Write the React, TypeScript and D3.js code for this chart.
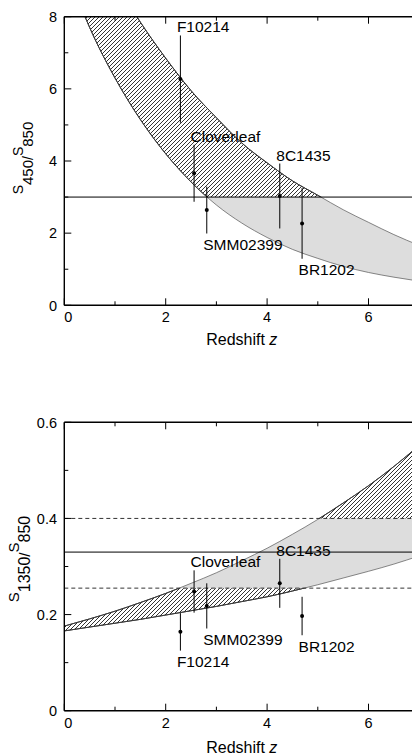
import * as d3 from 'd3';

const W = 412;
const H = 755;
const FONT = '"Liberation Sans", Arial, Helvetica, sans-serif';

// sources
const names = ['F10214', 'Cloverleaf', 'SMM02399', '8C1435', 'BR1202'];
const redshift = [2.29, 2.56, 2.81, 4.25, 4.69];
const ratio450 = [6.27, 3.66, 2.64, 3.03, 2.27];
const err450 = [1.21, 0.79, 0.65, 0.9, 0.98];
const ratio1350 = [0.164, 0.248, 0.218, 0.265, 0.197];
const err1350 = [0.039, 0.044, 0.047, 0.051, 0.04];

// model band edges
const modelZ = [0, 0.5, 1, 1.5, 2, 2.5, 3, 3.5, 4, 4.5, 5, 5.5, 6, 6.5, 7];
const upper450 = [11.8, 10.3, 9.0, 7.85, 6.85, 5.95, 5.2, 4.5, 3.95, 3.45, 3.05, 2.65, 2.3, 1.96, 1.66];
const lower450 = [9.5, 7.7, 6.3, 5.15, 4.2, 3.42, 2.78, 2.28, 1.88, 1.55, 1.3, 1.08, 0.91, 0.78, 0.67];
const upper1350 = [0.176, 0.191, 0.207, 0.225, 0.244, 0.265, 0.287, 0.312, 0.338, 0.367, 0.398, 0.432, 0.468, 0.508, 0.552];
const lower1350 = [0.166, 0.174, 0.182, 0.19, 0.199, 0.208, 0.217, 0.227, 0.237, 0.249, 0.262, 0.276, 0.29, 0.305, 0.322];

// ticks
const xMajor = [0, 2, 4, 6];
const xMinor = [1, 3, 5];
const yMajor450 = [0, 2, 4, 6, 8];
const yMinor450 = [1, 3, 5, 7];
const yMajor1350 = [0, 0.2, 0.4, 0.6];
const yMinor1350 = [0.1, 0.3, 0.5];

// reference levels
const solid450 = [3];
const dashed450: number[] = [];
const solid1350 = [0.33];
const dashed1350 = [0.4, 0.255];
const gray450 = [-1, 3];
const gray1350 = [0.255, 0.4];

const side450 = ['above', 'above', 'below', 'above', 'below'];
const side1350 = ['below', 'above', 'below', 'above', 'below'];

const x = d3.scaleLinear().domain([0, 7]).range([64.3, 419.2]);

type PanelProps = {
  id: string;
  domain: [number, number];
  top: number;
  bottom: number;
  upper: number[];
  lower: number[];
  values: number[];
  errors: number[];
  sides: string[];
  yMajor: number[];
  yMinor: number[];
  gray: number[];
  solid: number[];
  dashed: number[];
  sub: string;
  titleX: number;
  titleY: number;
  titleSize: number;
  xTitleY: number;
};

function Panel(p: PanelProps) {
  const y = d3.scaleLinear().domain(p.domain).range([p.bottom, p.top]);
  const x0 = x(0);

  const area = d3
    .area<number>()
    .x((_, i) => x(modelZ[i]))
    .y0((_, i) => y(p.lower[i]))
    .y1((d) => y(d))
    .curve(d3.curveMonotoneX);
  const line = d3
    .line<number>()
    .x((_, i) => x(modelZ[i]))
    .y((d) => y(d))
    .curve(d3.curveMonotoneX);

  const bandPath = area(p.upper) || '';
  const upPath = line(p.upper) || '';
  const loPath = line(p.lower) || '';

  const gTop = Math.max(p.top, y(p.gray[1]));
  const gBot = Math.min(p.bottom, y(p.gray[0]));

  return (
    <g>
      <defs>
        <clipPath id={`${p.id}-plot`}>
          <rect x={x0} y={p.top} width={W - x0} height={p.bottom - p.top} />
        </clipPath>
        <clipPath id={`${p.id}-gray`}>
          <rect x={x0} y={gTop} width={W - x0} height={gBot - gTop} />
        </clipPath>
        <clipPath id={`${p.id}-hatch`}>
          <rect x={x0} y={p.top} width={W - x0} height={gTop - p.top} />
          <rect x={x0} y={gBot} width={W - x0} height={p.bottom - gBot} />
        </clipPath>
      </defs>

      <g clipPath={`url(#${p.id}-plot)`}>
        <g clipPath={`url(#${p.id}-gray)`}>
          <path d={bandPath} fill="#dddddd" />
        </g>
        <g clipPath={`url(#${p.id}-hatch)`}>
          <path d={bandPath} fill="url(#hatch)" />
          <path d={upPath} fill="none" stroke="#000" strokeWidth={1} />
          <path d={loPath} fill="none" stroke="#000" strokeWidth={1} />
        </g>
        <path d={upPath} fill="none" stroke="#555" strokeWidth={0.7} />
        <path d={loPath} fill="none" stroke="#555" strokeWidth={0.7} />

        {p.solid.map((v) => (
          <line key={`s${v}`} x1={x0} x2={W} y1={y(v)} y2={y(v)} stroke="#000" strokeWidth={1} />
        ))}
        {p.dashed.map((v) => (
          <line key={`d${v}`} x1={x0} x2={W} y1={y(v)} y2={y(v)} stroke="#333" strokeWidth={1} strokeDasharray="4,3" />
        ))}
      </g>

      {/* sources */}
      {names.map((n, i) => {
        const cx = x(redshift[i]);
        const hi = y(p.values[i] + p.errors[i]);
        const lo = y(p.values[i] - p.errors[i]);
        const ty = p.sides[i] === 'above' ? hi - 3 : lo + 16.5;
        return (
          <g key={n}>
            <line x1={cx} x2={cx} y1={hi} y2={lo} stroke="#000" strokeWidth={1} />
            <circle cx={cx} cy={y(p.values[i])} r={2} fill="#000" />
            <text x={cx - 3.5} y={ty} fontSize={15.5} fill="#000">
              {n}
            </text>
          </g>
        );
      })}

      {/* frame */}
      <line x1={x0} x2={x0} y1={p.top} y2={p.bottom} stroke="#000" strokeWidth={1.4} />
      <line x1={x0} x2={W} y1={p.bottom} y2={p.bottom} stroke="#000" strokeWidth={1.4} />
      <line x1={x0} x2={W} y1={p.top} y2={p.top} stroke="#000" strokeWidth={1.4} />

      {xMajor.concat(xMinor).map((t) => {
        const len = xMajor.includes(t) ? 7 : 4;
        return (
          <g key={`xt${t}`}>
            <line x1={x(t)} x2={x(t)} y1={p.bottom} y2={p.bottom - len} stroke="#000" strokeWidth={1} />
            <line x1={x(t)} x2={x(t)} y1={p.top} y2={p.top + len} stroke="#000" strokeWidth={1} />
          </g>
        );
      })}
      {p.yMajor.concat(p.yMinor).map((t) => {
        const len = p.yMajor.includes(t) ? 7 : 4;
        return <line key={`yt${t}`} x1={x0} x2={x0 + len} y1={y(t)} y2={y(t)} stroke="#000" strokeWidth={1} />;
      })}

      {xMajor.map((t) => (
        <text
          key={`xl${t}`}
          x={x(t)}
          y={p.bottom + 17}
          fontSize={14.5}
          textAnchor={t === 0 ? 'start' : 'middle'}
        >
          {t}
        </text>
      ))}
      {p.yMajor.map((t) => (
        <text key={`yl${t}`} x={57} y={y(t)} dy="0.36em" fontSize={14.5} textAnchor="end">
          {t}
        </text>
      ))}

      <text x={x(3.5)} y={p.xTitleY} fontSize={16} textAnchor="middle">
        Redshift <tspan fontStyle="italic">z</tspan>
      </text>

      <text
        transform={`translate(${p.titleX},${p.titleY}) rotate(-90)`}
        fontSize={p.titleSize}
        textAnchor="middle"
      >
        S
        <tspan dy={p.titleSize * 0.72} fontSize={p.titleSize + 1}>
          {p.sub}
        </tspan>
        <tspan>/</tspan>
        <tspan dy={-p.titleSize * 0.72}>S</tspan>
        <tspan dy={p.titleSize * 0.72} fontSize={p.titleSize + 1}>
          850
        </tspan>
      </text>
    </g>
  );
}

export default function App() {
  return (
    <div style={{ position: 'absolute', left: 0, top: 0 }}>
      <svg width={W} height={H} style={{ display: 'block', background: '#fff', fontFamily: FONT }}>
        <defs>
          <pattern id="hatch" width={4} height={4} patternUnits="userSpaceOnUse">
            <path d="M-1,1 l2,-2 M0,4 l4,-4 M3,5 l2,-2" stroke="#000" strokeWidth={0.8} />
          </pattern>
        </defs>
        <Panel
          id="p450"
          domain={[0, 8]}
          top={16.7}
          bottom={305.3}
          upper={upper450}
          lower={lower450}
          values={ratio450}
          errors={err450}
          sides={side450}
          yMajor={yMajor450}
          yMinor={yMinor450}
          gray={gray450}
          solid={solid450}
          dashed={dashed450}
          sub="450"
          titleX={23}
          titleY={158}
          titleSize={14}
          xTitleY={345}
        />
        <Panel
          id="p1350"
          domain={[0, 0.6]}
          top={422.3}
          bottom={710.7}
          upper={upper1350}
          lower={lower1350}
          values={ratio1350}
          errors={err1350}
          sides={side1350}
          yMajor={yMajor1350}
          yMinor={yMinor1350}
          gray={gray1350}
          solid={solid1350}
          dashed={dashed1350}
          sub="1350"
          titleX={19}
          titleY={559}
          titleSize={15}
          xTitleY={752.5}
        />
      </svg>
    </div>
  );
}
